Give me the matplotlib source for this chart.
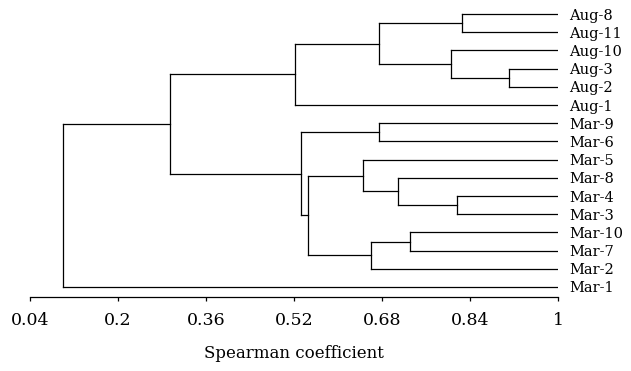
import matplotlib
matplotlib.use('Agg')
import matplotlib.pyplot as plt

# leaves, top to bottom
leaves = ['Aug-8', 'Aug-11', 'Aug-10', 'Aug-3', 'Aug-2', 'Aug-1',
          'Mar-9', 'Mar-6', 'Mar-5', 'Mar-8', 'Mar-4', 'Mar-3',
          'Mar-10', 'Mar-7', 'Mar-2', 'Mar-1']

# merges: (name, left child, right child, similarity)
merges = [
    ('a32', 'Aug-3', 'Aug-2', 0.911),
    ('a811', 'Aug-8', 'Aug-11', 0.825),
    ('m43', 'Mar-4', 'Mar-3', 0.816),
    ('a1032', 'Aug-10', 'a32', 0.805),
    ('m107', 'Mar-10', 'Mar-7', 0.731),
    ('m843', 'Mar-8', 'm43', 0.709),
    ('aug5', 'a811', 'a1032', 0.675),
    ('m96', 'Mar-9', 'Mar-6', 0.675),
    ('m1072', 'm107', 'Mar-2', 0.660),
    ('m5843', 'Mar-5', 'm843', 0.645),
    ('mlow', 'm5843', 'm1072', 0.545),
    ('mar', 'm96', 'mlow', 0.533),
    ('aug', 'aug5', 'Aug-1', 0.522),
    ('augmar', 'aug', 'mar', 0.295),
    ('root', 'augmar', 'Mar-1', 0.100),
]

xticks = [0.04, 0.2, 0.36, 0.52, 0.68, 0.84, 1.0]
xticklabels = ['0.04', '0.2', '0.36', '0.52', '0.68', '0.84', '1']

plt.rcParams['font.family'] = ['DejaVu Serif']

fig = plt.figure(figsize=(6.31, 3.71), dpi=100)
ax = fig.add_axes([0.0475, 0.1995, 0.8368, 0.787])

ypos = {name: i for i, name in enumerate(leaves)}
xpos = {name: 1.0 for name in leaves}

for name, a, b, s in merges:
    ya, yb = ypos[a], ypos[b]
    ax.plot([xpos[a], s], [ya, ya], color='black', lw=0.9)
    ax.plot([xpos[b], s], [yb, yb], color='black', lw=0.9)
    ax.plot([s, s], [ya, yb], color='black', lw=0.9)
    ypos[name] = (ya + yb) / 2
    xpos[name] = s

ax.set_xlim(0.04, 1.0)
ax.set_ylim(len(leaves) - 0.45, -0.5)

for sp in ['top', 'left', 'right']:
    ax.spines[sp].set_visible(False)
ax.spines['bottom'].set_linewidth(0.9)

ax.set_xticks(xticks)
ax.set_xticklabels(xticklabels, fontsize=12.5)
ax.tick_params(axis='x', length=3, width=0.9, pad=8)

ax.yaxis.tick_right()
ax.set_yticks(range(len(leaves)))
ax.set_yticklabels(leaves, fontsize=10.5)
ax.tick_params(axis='y', length=0, pad=8)

ax.set_xlabel('Spearman coefficient', fontsize=12, labelpad=11)

fig.savefig('out.png', dpi=100)
